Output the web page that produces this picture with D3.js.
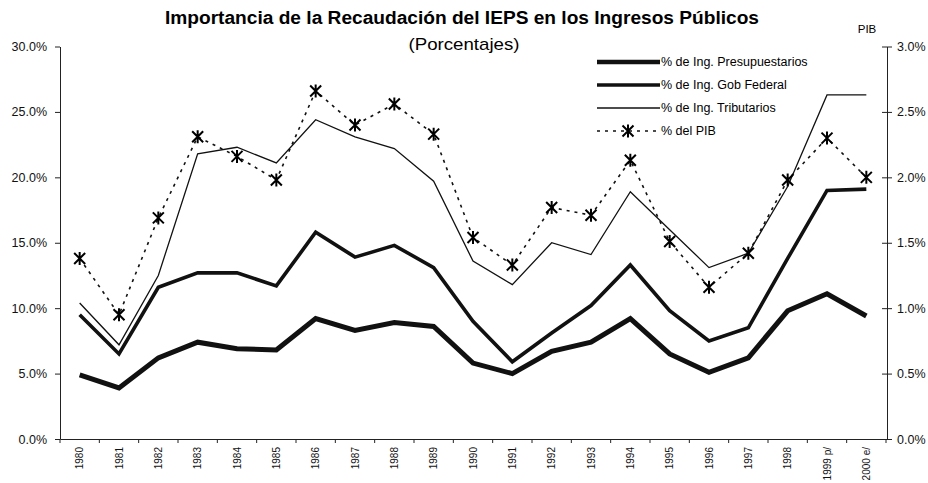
<!DOCTYPE html>
<html>
<head>
<meta charset="utf-8">
<script src="https://cdn.jsdelivr.net/npm/d3@7"></script>
<style>
  body { margin: 0; background: #fff; }
  svg { font-family: "Liberation Sans", Arial, sans-serif; }
  .axis path, .axis line { stroke: #222; stroke-width: 1; }
  .axis text { font-size: 12.5px; fill: #111; }
</style>
</head>
<body>
<div id="viz"></div>
<script>
// datos
var years = ["1980","1981","1982","1983","1984","1985","1986","1987","1988","1989","1990",
             "1991","1992","1993","1994","1995","1996","1997","1998","1999 p/","2000 e/"];
var presupuestarios = [4.9,3.9,6.2,7.4,6.9,6.8,9.2,8.3,8.9,8.6,5.8,5.0,6.7,7.4,9.2,6.5,5.1,6.2,9.8,11.1,9.4];
var gobFederal = [9.5,6.5,11.6,12.7,12.7,11.7,15.8,13.9,14.8,13.1,9.0,5.9,8.1,10.2,13.3,9.8,7.5,8.5,13.8,19.0,19.1];
var tributarios = [10.4,7.2,12.5,21.8,22.3,21.1,24.4,23.1,22.2,19.7,13.6,11.8,15.0,14.1,18.9,16.0,13.1,14.2,19.3,26.3,26.3];
var pib = [1.38,0.95,1.69,2.31,2.16,1.98,2.66,2.40,2.56,2.33,1.54,1.33,1.77,1.71,2.13,1.51,1.16,1.42,1.98,2.30,2.00];
var leftTicks = [0,5,10,15,20,25,30];
var rightTicks = [0,0.5,1,1.5,2,2.5,3];
var legendNames = ["% de Ing. Presupuestarios","% de Ing. Gob Federal","% de Ing. Tributarios","% del PIB"];

var width = 928, height = 483;
var svg = d3.select("#viz").append("svg")
    .attr("width", width)
    .attr("height", height);

var x = d3.scaleBand().domain(years).range([60, 886]).padding(0);
var y = d3.scaleLinear().domain([0, 30]).range([439, 46.5]);
var y2 = d3.scaleLinear().domain([0, 3]).range([439, 46.5]);
var cx = function(i){ return x(years[i]) + x.bandwidth()/2; };

// titulos
svg.append("text")
    .attr("x", 462).attr("y", 24)
    .attr("text-anchor", "middle")
    .style("font-size", "18px").style("font-weight", "bold")
    .attr("textLength", 594).attr("lengthAdjust", "spacingAndGlyphs")
    .text("Importancia de la Recaudación del IEPS en los Ingresos Públicos");
svg.append("text")
    .attr("x", 464).attr("y", 50)
    .attr("text-anchor", "middle")
    .style("font-size", "17px")
    .attr("textLength", 111).attr("lengthAdjust", "spacingAndGlyphs")
    .text("(Porcentajes)");
svg.append("text")
    .attr("x", 867).attr("y", 33)
    .attr("text-anchor", "middle")
    .style("font-size", "11.5px")
    .text("PIB");

// ejes
svg.append("g")
    .attr("class", "axis")
    .attr("transform", "translate(60,0)")
    .call(d3.axisLeft(y).tickValues(leftTicks).tickSize(5).tickSizeOuter(0)
        .tickFormat(function(d){ return d.toFixed(1) + "%"; }))
    .call(function(g){ g.selectAll("text").attr("x", -13); });

var ra = svg.append("g")
    .attr("class", "axis")
    .attr("transform", "translate(887,0)")
    .call(d3.axisRight(y2).tickValues(rightTicks).tickSize(5).tickSizeOuter(0)
        .tickFormat(function(d){ return d.toFixed(1) + "%"; }));
ra.selectAll(".tick line").attr("x1", -5);
ra.selectAll(".tick text").attr("x", 10);

var xa = svg.append("g")
    .attr("class", "axis")
    .attr("transform", "translate(0,439)")
    .call(d3.axisBottom(x).tickSize(0).tickSizeOuter(0));
xa.selectAll("text")
    .attr("transform", "rotate(-90)")
    .attr("x", -8).attr("y", 0).attr("dy", "0.35em")
    .attr("text-anchor", "end")
    .style("font-size", "10px");
var bounds = years.map(function(d){ return x(d); }).concat([x.range()[1]]);
xa.selectAll(".bound").data(bounds).enter().append("line")
    .attr("class", "bound")
    .attr("x1", function(d){ return d; }).attr("x2", function(d){ return d; })
    .attr("y1", 0).attr("y2", 4);

// lineas
var line = d3.line()
    .x(function(d, i){ return cx(i); })
    .y(function(d){ return y(d); });
var line2 = d3.line()
    .x(function(d, i){ return cx(i); })
    .y(function(d){ return y2(d); });

svg.append("path").datum(tributarios)
    .attr("d", line).attr("fill", "none")
    .attr("stroke", "#111").attr("stroke-width", 1.3);
svg.append("path").datum(gobFederal)
    .attr("d", line).attr("fill", "none")
    .attr("stroke", "#111").attr("stroke-width", 3.6)
    .attr("stroke-linejoin", "miter");
svg.append("path").datum(presupuestarios)
    .attr("d", line).attr("fill", "none")
    .attr("stroke", "#111").attr("stroke-width", 5)
    .attr("stroke-linejoin", "miter");
svg.append("path").datum(pib)
    .attr("d", line2).attr("fill", "none")
    .attr("stroke", "#111").attr("stroke-width", 1.6)
    .attr("stroke-dasharray", "3,5");

function asterisk(g, px, py){
    var r = 5.5;
    g.append("path")
        .attr("d", "M" + (px-r) + "," + (py-r) + "L" + (px+r) + "," + (py+r) +
                   "M" + (px-r) + "," + (py+r) + "L" + (px+r) + "," + (py-r) +
                   "M" + px + "," + (py-r-1) + "L" + px + "," + (py+r+1))
        .attr("stroke", "#000").attr("stroke-width", 2).attr("fill", "none");
}
var marks = svg.append("g");
pib.forEach(function(d, i){ asterisk(marks, cx(i), y2(d)); });

// leyenda
var lg = svg.append("g");
var ly = [62, 85, 108, 131];
var lw = [4.5, 3.6, 1.3, 1.6];
legendNames.forEach(function(n, i){
    var l = lg.append("line")
        .attr("x1", 597).attr("x2", 660)
        .attr("y1", ly[i]).attr("y2", ly[i])
        .attr("stroke", "#111").attr("stroke-width", lw[i]);
    if(i == 3) {
        l.attr("stroke-dasharray", "3,5");
        asterisk(lg, 628, ly[i]);
    }
    lg.append("text")
        .attr("x", 661).attr("y", ly[i]).attr("dy", "0.35em")
        .style("font-size", "12.5px")
        .text(n);
});
</script>
</body>
</html>
